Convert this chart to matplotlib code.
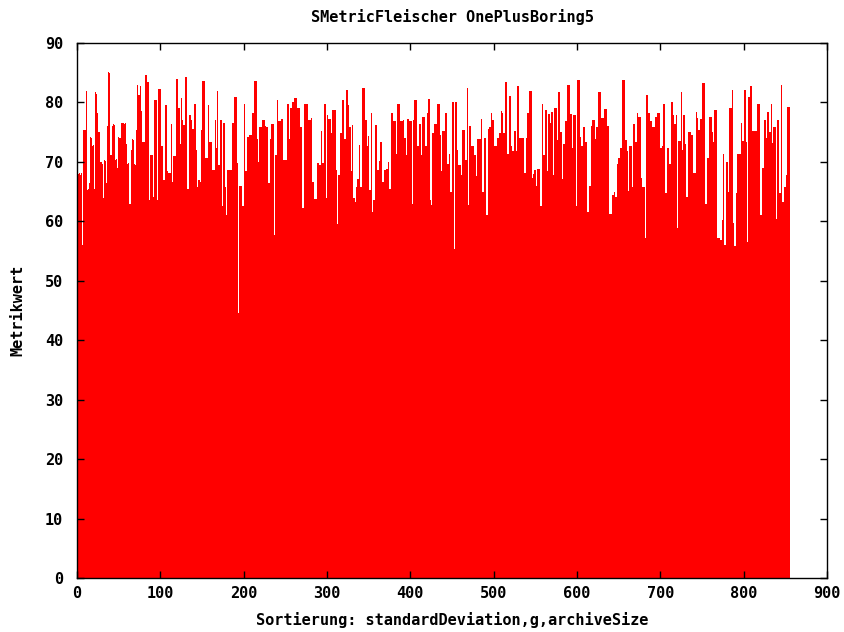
import matplotlib
matplotlib.use("Agg")
import matplotlib.pyplot as plt
import numpy as np

# Metric value for each sorted run, in blocks of 100 runs
values_000 = [
    68.6, 68.4, 68.0, 68.2, 67.8, 68.1, 67.9, 56.0, 75.3, 75.4,
    75.3, 82.0, 81.8, 65.3, 65.5, 66.4, 74.2, 74.0, 72.7, 72.6,
    72.8, 65.5, 81.7, 81.5, 78.4, 78.2, 75.1, 75.0, 69.9, 70.0,
    69.8, 69.7, 64.0, 70.3, 70.2, 66.4, 75.9, 76.0, 85.1, 84.9,
    71.1, 71.1, 76.2, 76.0, 76.3, 76.2, 70.3, 70.5, 68.9, 69.0,
    74.2, 74.1, 74.1, 76.5, 76.4, 76.5, 76.5, 76.3, 76.5, 73.0,
    69.8, 69.7, 69.8, 62.9, 63.0, 72.0, 71.8, 73.8, 73.6, 69.6,
    69.5, 75.4, 75.3, 82.9, 81.3, 81.3, 82.8, 78.6, 78.6, 73.4,
    73.4, 73.4, 84.6, 84.6, 83.5, 83.5, 83.5, 63.6, 71.2, 71.2,
    71.2, 71.2, 64.1, 80.4, 80.4, 80.4, 63.6, 63.6, 82.2, 82.2,
]
values_100 = [
    82.2, 72.6, 72.6, 72.6, 67.0, 67.0, 79.5, 79.5, 68.5, 68.5,
    68.2, 68.2, 68.2, 76.3, 66.7, 66.7, 71.0, 71.0, 71.0, 83.9,
    83.9, 83.9, 79.1, 79.1, 73.0, 80.8, 80.8, 77.0, 76.2, 76.2,
    84.3, 84.3, 65.4, 65.4, 65.4, 77.9, 77.9, 77.0, 77.0, 75.5,
    75.5, 79.8, 79.8, 72.0, 65.7, 65.7, 67.0, 67.0, 66.7, 75.4,
    75.4, 83.6, 83.6, 83.6, 70.6, 70.6, 70.6, 70.6, 79.5, 73.4,
    73.4, 73.4, 68.6, 68.6, 68.6, 68.6, 77.0, 72.3, 72.3, 81.9,
    69.5, 69.5, 77.0, 77.0, 62.5, 62.5, 76.6, 76.6, 65.8, 61.1,
    61.1, 68.6, 68.6, 68.6, 68.6, 68.6, 76.5, 76.5, 76.5, 81.0,
    81.0, 81.0, 69.8, 69.8, 44.5, 66.0, 66.0, 66.0, 66.0, 62.5,
]
values_200 = [
    62.5, 79.8, 68.5, 68.5, 74.2, 74.2, 74.2, 74.5, 74.5, 74.5,
    78.2, 78.2, 78.2, 83.6, 83.6, 83.6, 73.8, 73.8, 70.0, 75.9,
    75.9, 75.9, 77.0, 77.0, 77.0, 77.0, 76.1, 75.9, 75.9, 75.9,
    66.4, 66.4, 73.8, 76.3, 76.3, 76.3, 76.3, 57.7, 71.1, 71.1,
    80.4, 80.4, 76.8, 76.8, 76.8, 77.2, 77.2, 77.2, 70.3, 70.3,
    70.3, 70.3, 79.8, 79.8, 79.8, 73.8, 79.0, 79.0, 79.0, 80.1,
    80.1, 80.8, 80.8, 80.8, 79.7, 79.1, 79.1, 79.1, 75.9, 75.9,
    62.2, 62.2, 62.2, 79.7, 79.7, 79.7, 79.7, 79.7, 77.0, 77.0,
    77.0, 77.4, 77.4, 66.7, 66.7, 63.7, 63.7, 63.7, 63.7, 69.8,
    69.8, 69.5, 69.5, 75.2, 75.2, 69.8, 69.8, 79.8, 79.8, 64.0,
]
values_300 = [
    64.0, 77.9, 77.2, 77.2, 77.2, 74.8, 74.8, 78.7, 78.7, 78.7,
    78.7, 68.6, 68.6, 59.5, 67.8, 67.8, 74.8, 74.8, 80.4, 80.4,
    80.4, 73.8, 73.8, 82.1, 82.1, 82.1, 79.6, 75.9, 75.9, 68.5,
    68.5, 76.2, 63.9, 63.9, 63.3, 65.7, 65.7, 67.2, 67.2, 72.8,
    65.8, 65.8, 72.4, 82.5, 82.5, 82.5, 77.0, 77.0, 72.6, 72.6,
    74.4, 65.3, 65.3, 78.2, 78.2, 61.6, 63.6, 63.6, 76.2, 76.2,
    76.2, 68.6, 68.6, 70.1, 73.3, 73.3, 73.3, 66.6, 66.6, 68.6,
    68.6, 68.8, 68.8, 68.8, 69.9, 65.5, 65.5, 78.2, 78.2, 78.2,
    76.8, 76.8, 76.9, 71.4, 71.4, 79.8, 79.8, 79.8, 76.9, 76.9,
    76.9, 76.9, 77.0, 74.1, 74.1, 71.1, 77.2, 77.2, 77.2, 76.9,
]
values_400 = [
    76.9, 76.8, 76.8, 62.9, 77.0, 80.4, 80.4, 80.4, 72.7, 72.7,
    72.7, 76.3, 76.3, 71.1, 71.1, 77.6, 77.6, 77.6, 72.6, 72.6,
    78.3, 78.3, 80.6, 80.6, 63.6, 62.7, 74.8, 74.8, 74.8, 76.3,
    76.3, 76.3, 79.8, 79.8, 79.8, 79.8, 74.5, 68.5, 68.5, 75.2,
    75.2, 75.2, 78.3, 78.3, 78.3, 69.6, 69.6, 71.3, 64.9, 64.9,
    80.1, 80.1, 80.1, 55.3, 80.1, 80.1, 72.0, 72.0, 69.5, 69.5,
    69.4, 67.8, 67.8, 75.4, 75.4, 75.4, 70.3, 70.3, 82.5, 82.5,
    62.7, 76.1, 76.1, 72.7, 72.7, 72.7, 72.7, 71.1, 71.1, 67.7,
    67.7, 73.8, 73.8, 73.8, 73.8, 77.2, 77.2, 64.9, 64.9, 74.1,
    74.1, 61.1, 61.1, 61.1, 75.6, 75.9, 75.9, 78.3, 78.3, 77.0,
]
values_500 = [
    77.0, 72.6, 72.6, 72.6, 72.6, 74.1, 74.1, 74.8, 74.8, 78.6,
    65.6, 78.3, 74.8, 74.8, 83.5, 83.5, 83.5, 71.4, 71.4, 81.1,
    81.1, 72.6, 72.6, 71.8, 71.8, 75.2, 75.2, 71.8, 71.8, 82.8,
    82.8, 74.1, 74.1, 74.1, 74.1, 74.1, 74.1, 68.2, 68.2, 74.1,
    78.2, 78.2, 78.2, 81.9, 81.9, 81.9, 67.3, 67.3, 67.9, 68.6,
    68.6, 66.0, 68.8, 68.8, 68.8, 68.8, 62.5, 62.5, 62.5, 79.8,
    71.1, 71.1, 78.7, 78.7, 78.7, 68.5, 78.0, 78.0, 76.5, 78.4,
    78.4, 78.4, 67.8, 79.0, 79.0, 79.0, 73.7, 73.7, 81.7, 81.7,
    75.0, 75.0, 75.0, 67.1, 73.0, 73.0, 76.8, 76.8, 76.8, 83.0,
    83.0, 83.0, 78.0, 78.0, 72.3, 72.3, 77.9, 77.9, 77.9, 62.5,
]
values_600 = [
    83.8, 83.8, 83.8, 83.8, 74.2, 72.7, 72.7, 72.7, 75.9, 75.9,
    73.4, 73.4, 73.4, 61.5, 61.5, 66.0, 66.0, 76.1, 77.0, 77.0,
    77.0, 77.0, 73.9, 75.9, 75.9, 75.9, 81.7, 81.7, 81.7, 77.3,
    77.3, 77.3, 77.3, 78.9, 78.9, 78.9, 76.1, 76.1, 76.1, 61.3,
    61.3, 61.3, 64.4, 64.4, 64.4, 64.9, 64.1, 64.1, 64.1, 69.6,
    70.7, 70.7, 72.3, 72.3, 66.9, 83.8, 83.8, 83.8, 73.7, 73.7,
    71.8, 71.8, 65.1, 72.7, 72.7, 72.7, 65.7, 65.7, 76.3, 76.3,
    73.3, 73.3, 73.3, 78.3, 77.6, 77.6, 77.6, 67.3, 67.3, 65.7,
    65.7, 65.7, 57.2, 81.3, 81.3, 81.3, 78.2, 78.2, 76.8, 76.8,
    65.5, 75.9, 75.9, 75.9, 77.6, 77.6, 78.2, 78.2, 78.2, 78.2,
]
values_700 = [
    72.3, 72.3, 72.7, 72.7, 79.7, 79.7, 64.7, 64.7, 72.3, 72.3,
    72.3, 69.6, 69.6, 80.1, 80.1, 80.1, 77.9, 76.3, 76.3, 77.9,
    58.9, 58.9, 73.5, 73.5, 73.5, 81.7, 72.0, 72.0, 77.9, 77.9,
    73.0, 64.1, 64.1, 64.1, 75.0, 75.0, 75.0, 74.6, 74.6, 74.6,
    68.1, 68.1, 68.1, 78.4, 78.4, 77.4, 75.4, 75.4, 77.2, 77.2,
    77.2, 83.2, 83.2, 83.2, 62.9, 62.9, 52.2, 70.7, 70.7, 77.6,
    77.6, 77.6, 75.1, 75.1, 73.4, 78.7, 78.7, 78.7, 64.4, 57.2,
    57.2, 57.2, 56.8, 56.8, 60.2, 60.2, 71.4, 56.0, 56.0, 70.0,
    70.0, 70.0, 65.0, 79.1, 79.1, 79.1, 82.1, 82.1, 59.7, 55.9,
    55.9, 64.7, 71.3, 71.3, 71.3, 71.3, 71.3, 76.5, 76.5, 73.5,
]
values_800 = [
    73.5, 82.1, 82.1, 73.3, 56.6, 56.6, 81.0, 81.0, 82.8, 82.8,
    76.5, 75.2, 75.2, 75.2, 75.2, 75.2, 51.6, 79.8, 79.8, 79.8,
    61.1, 61.1, 68.9, 68.9, 68.9, 77.0, 77.0, 74.1, 74.1, 78.4,
    78.4, 75.1, 75.1, 79.7, 79.7, 73.1, 75.8, 75.8, 75.9, 60.4,
    60.4, 77.0, 77.0, 64.7, 64.7, 83.0, 83.0, 63.2, 63.2, 65.8,
    65.8, 67.8, 67.8, 79.3, 79.3, 79.3,
]

x_ticks = [0, 100, 200, 300, 400, 500, 600, 700, 800, 900]
y_ticks = [0, 10, 20, 30, 40, 50, 60, 70, 80, 90]

title_text = "SMetricFleischer OnePlusBoring5"
x_label = "Sortierung: standardDeviation,g,archiveSize"
y_label = "Metrikwert"

metric = np.array(values_000 + values_100 + values_200 + values_300 + values_400
                  + values_500 + values_600 + values_700 + values_800)
positions = np.arange(len(metric))

plt.rcParams["font.family"] = ["DejaVu Sans Mono"]
plt.rcParams["font.weight"] = "bold"

fig = plt.figure(figsize=(8.45, 6.32), dpi=100)
ax = fig.add_axes([77 / 845, 1 - 578 / 632, 750 / 845, 535 / 632])

ax.bar(positions, metric, width=1.0, color="#ff0000", linewidth=0,
       antialiased=False, align="center")

ax.set_xlim(0, 900)
ax.set_ylim(0, 90)
ax.set_xticks(x_ticks)
ax.set_yticks(y_ticks)
ax.set_xticklabels([str(t) for t in x_ticks], fontsize=11, fontweight="bold")
ax.set_yticklabels([str(t) for t in y_ticks], fontsize=11, fontweight="bold")
ax.tick_params(direction="in", length=5, width=1, top=True, right=True,
               pad=6, colors="black")
ax.tick_params(axis="y", pad=10)
for side in ax.spines.values():
    side.set_linewidth(1.0)
    side.set_color("black")
    side.set_zorder(5)

ax.set_title(title_text, fontsize=11, fontweight="bold", pad=15)
ax.set_xlabel(x_label, fontsize=11, fontweight="bold", labelpad=8)
ax.set_ylabel(y_label, fontsize=11, fontweight="bold", labelpad=14)

fig.savefig("out.png", dpi=100, facecolor="white")
